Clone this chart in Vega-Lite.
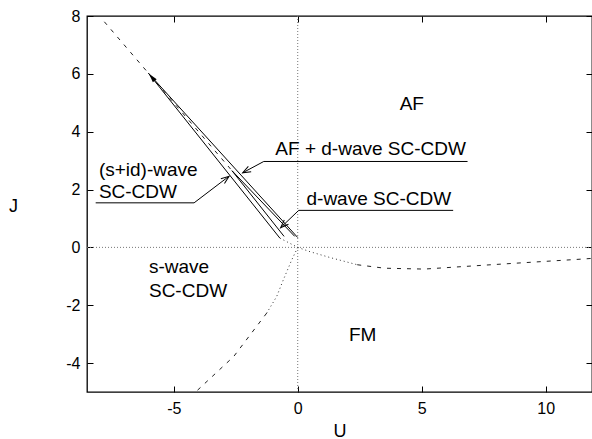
{
  "$schema": "https://vega.github.io/schema/vega-lite/v6.json",
  "width": 505,
  "height": 376,
  "autosize": {"type": "none"},
  "padding": {"left": 87, "top": 16, "right": 0, "bottom": 47},
  "background": "white",
  "config": {
    "font": "Liberation Sans",
    "view": {"stroke": "black", "strokeWidth": 1.3},
    "axis": {"grid": false, "domain": false, "tickColor": "black", "labelColor": "black", "titleColor": "black", "labelFontSize": 16, "titleFontSize": 18, "titleFontWeight": "normal", "tickSize": -6, "tickWidth": 1, "labelExpr": "datum.value < 0 ? '-' + abs(datum.value) : '' + datum.value"}
  },
  "datasets": {
    "lines": [
      {"line": "diag", "i": 0, "U": -7.8, "J": 7.8},
      {"line": "diag", "i": 1, "U": -2.65, "J": 2.65},
      {"line": "outerL", "i": 0, "U": -6.02, "J": 6.02},
      {"line": "outerL", "i": 1, "U": -0.72, "J": 0.32},
      {"line": "outerR", "i": 0, "U": -6.02, "J": 6.02},
      {"line": "outerR", "i": 1, "U": 0.0, "J": 0.34},
      {"line": "innerL", "i": 0, "U": -2.65, "J": 2.65},
      {"line": "innerL", "i": 1, "U": -0.55, "J": 0.38},
      {"line": "innerR", "i": 0, "U": -2.65, "J": 2.65},
      {"line": "innerR", "i": 1, "U": -0.12, "J": 0.38},
      {"line": "origin", "i": 0, "U": -0.72, "J": 0.32},
      {"line": "origin", "i": 1, "U": 0.0, "J": 0.0},
      {"line": "lowDot", "i": 0, "U": 0.0, "J": 0.0},
      {"line": "lowDot", "i": 1, "U": -0.24, "J": -0.43},
      {"line": "lowDot", "i": 2, "U": -0.58, "J": -1.12},
      {"line": "lowDot", "i": 3, "U": -0.85, "J": -1.7},
      {"line": "lowDot", "i": 4, "U": -1.25, "J": -2.27},
      {"line": "lowDash", "i": 0, "U": -1.25, "J": -2.27},
      {"line": "lowDash", "i": 1, "U": -2.58, "J": -3.77},
      {"line": "lowDash", "i": 2, "U": -4.12, "J": -5.0},
      {"line": "rightDot", "i": 0, "U": 0.0, "J": 0.0},
      {"line": "rightDot", "i": 1, "U": 0.5, "J": -0.15},
      {"line": "rightDot", "i": 2, "U": 1.3, "J": -0.35},
      {"line": "rightDot", "i": 3, "U": 2.4, "J": -0.6},
      {"line": "rightDash", "i": 0, "U": 2.4, "J": -0.6},
      {"line": "rightDash", "i": 1, "U": 3.5, "J": -0.72},
      {"line": "rightDash", "i": 2, "U": 5.1, "J": -0.75},
      {"line": "rightDash", "i": 3, "U": 7.8, "J": -0.6},
      {"line": "rightDash", "i": 4, "U": 11.55, "J": -0.4},
      {"line": "rightDash", "i": 5, "U": 11.87, "J": -0.38},
      {"line": "leadAFD", "i": 0, "U": 6.85, "J": 2.97},
      {"line": "leadAFD", "i": 1, "U": -1.37, "J": 2.97},
      {"line": "leadAFD", "i": 2, "U": -2.22, "J": 2.58},
      {"line": "leadD", "i": 0, "U": 6.27, "J": 1.28},
      {"line": "leadD", "i": 1, "U": 0.04, "J": 1.28},
      {"line": "leadD", "i": 2, "U": -0.69, "J": 0.68},
      {"line": "leadSID", "i": 0, "U": -8.15, "J": 1.54},
      {"line": "leadSID", "i": 1, "U": -4.18, "J": 1.54},
      {"line": "leadSID", "i": 2, "U": -2.77, "J": 2.46}
    ],
    "tips": [
      {"tip": "AFD", "U": -2.22, "J": 2.58},
      {"tip": "D", "U": -0.69, "J": 0.68},
      {"tip": "SID", "U": -2.77, "J": 2.46},
      {"tip": "apex", "U": -6.0, "J": 6.0}
    ],
    "labels": [
      {"pos": "center", "text": "AF", "U": 4.6, "J": 4.96},
      {"pos": "center", "text": "AF + d-wave SC-CDW", "U": 2.94, "J": 3.4},
      {"pos": "center", "text": "d-wave SC-CDW", "U": 3.27, "J": 1.66},
      {"pos": "center", "text": "FM", "U": 2.62, "J": -3.03},
      {"pos": "left", "text": "(s+id)-wave", "U": -8.02, "J": 2.69},
      {"pos": "left", "text": "SC-CDW", "U": -8.02, "J": 1.91},
      {"pos": "left", "text": "s-wave", "U": -6.0, "J": -0.68},
      {"pos": "left", "text": "SC-CDW", "U": -6.0, "J": -1.52}
    ]
  },
  "layer": [
    {
      "layer": [
        {
          "data": {"values": [{"U": 0}]},
          "mark": {"type": "rule", "color": "#777", "strokeWidth": 1, "strokeDash": [1, 2]},
          "encoding": {"x": {"field": "U", "type": "quantitative"}}
        },
        {
          "data": {"values": [{"J": 0}]},
          "mark": {"type": "rule", "color": "#777", "strokeWidth": 1, "strokeDash": [1, 2]},
          "encoding": {"y": {"field": "J", "type": "quantitative"}}
        },
        {
          "data": {"name": "lines"},
          "transform": [{"filter": {"field": "line", "oneOf": ["diag", "lowDash", "rightDash"]}}],
          "mark": {"type": "line", "color": "#222", "strokeWidth": 1, "strokeDash": [4, 6]},
          "encoding": {
            "x": {"field": "U", "type": "quantitative", "scale": {"domain": [-8.5, 11.87], "nice": false, "zero": false}, "axis": {"values": [-5, 0, 5, 10], "title": "U", "labelPadding": 14, "titleY": 44, "titleBaseline": "alphabetic"}},
            "y": {"field": "J", "type": "quantitative", "scale": {"domain": [-5, 8], "nice": false, "zero": false}, "axis": {"values": [-4, -2, 0, 2, 4, 6, 8], "title": "J", "titleAngle": 0, "titleX": -74, "titleY": 190, "titleAlign": "center", "titleBaseline": "middle", "labelPadding": 13}},
            "detail": {"field": "line"},
            "order": {"field": "i"}
          }
        },
        {
          "data": {"name": "lines"},
          "transform": [{"filter": {"field": "line", "oneOf": ["origin", "lowDot", "rightDot"]}}],
          "mark": {"type": "line", "color": "#333", "strokeWidth": 1, "strokeDash": [1, 3]},
          "encoding": {
            "x": {"field": "U", "type": "quantitative"},
            "y": {"field": "J", "type": "quantitative"},
            "detail": {"field": "line"},
            "order": {"field": "i"}
          }
        },
        {
          "data": {"name": "lines"},
          "transform": [{"filter": {"field": "line", "oneOf": ["outerL", "outerR", "innerL", "innerR", "leadAFD", "leadD", "leadSID"]}}],
          "mark": {"type": "line", "color": "black", "strokeWidth": 1},
          "encoding": {
            "x": {"field": "U", "type": "quantitative"},
            "y": {"field": "J", "type": "quantitative"},
            "detail": {"field": "line"},
            "order": {"field": "i"}
          }
        },
        {
          "data": {"name": "tips"},
          "transform": [{"filter": {"field": "tip", "equal": "AFD"}}],
          "mark": {"type": "point", "shape": "M-0.6,1.6L0,0L0.6,1.6", "size": 100, "filled": false, "stroke": "black", "strokeWidth": 1, "angle": 242, "opacity": 1},
          "encoding": {"x": {"field": "U", "type": "quantitative"}, "y": {"field": "J", "type": "quantitative"}}
        },
        {
          "data": {"name": "tips"},
          "transform": [{"filter": {"field": "tip", "equal": "D"}}],
          "mark": {"type": "point", "shape": "M-0.6,1.6L0,0L0.6,1.6", "size": 100, "filled": false, "stroke": "black", "strokeWidth": 1, "angle": 226, "opacity": 1},
          "encoding": {"x": {"field": "U", "type": "quantitative"}, "y": {"field": "J", "type": "quantitative"}}
        },
        {
          "data": {"name": "tips"},
          "transform": [{"filter": {"field": "tip", "equal": "SID"}}],
          "mark": {"type": "point", "shape": "M-0.6,1.6L0,0L0.6,1.6", "size": 100, "filled": false, "stroke": "black", "strokeWidth": 1, "angle": 53, "opacity": 1},
          "encoding": {"x": {"field": "U", "type": "quantitative"}, "y": {"field": "J", "type": "quantitative"}}
        },
        {
          "data": {"name": "tips"},
          "transform": [{"filter": {"field": "tip", "equal": "apex"}}],
          "mark": {"type": "point", "shape": "M-0.5,1.8L0,0L0.5,1.8Z", "size": 100, "filled": true, "color": "black", "angle": 320, "opacity": 1},
          "encoding": {"x": {"field": "U", "type": "quantitative"}, "y": {"field": "J", "type": "quantitative"}}
        },
        {
          "data": {"name": "labels"},
          "transform": [{"filter": {"field": "pos", "equal": "center"}}],
          "mark": {"type": "text", "fontSize": 19, "align": "center", "baseline": "middle", "color": "black"},
          "encoding": {"x": {"field": "U", "type": "quantitative"}, "y": {"field": "J", "type": "quantitative"}, "text": {"field": "text"}}
        },
        {
          "data": {"name": "labels"},
          "transform": [{"filter": {"field": "pos", "equal": "left"}}],
          "mark": {"type": "text", "fontSize": 19, "align": "left", "baseline": "middle", "color": "black"},
          "encoding": {"x": {"field": "U", "type": "quantitative"}, "y": {"field": "J", "type": "quantitative"}, "text": {"field": "text"}}
        }
      ]
    },
    {
      "data": {"name": "tips"},
      "mark": {"type": "point", "opacity": 0},
      "encoding": {
        "x": {"field": "U", "type": "quantitative", "axis": {"orient": "top", "values": [-5, 0, 5, 10], "labels": false, "title": null}},
        "y": {"field": "J", "type": "quantitative", "axis": {"orient": "right", "values": [-4, -2, 0, 2, 4, 6, 8], "labels": false, "title": null}}
      }
    }
  ],
  "resolve": {"axis": {"x": "independent", "y": "independent"}}
}
